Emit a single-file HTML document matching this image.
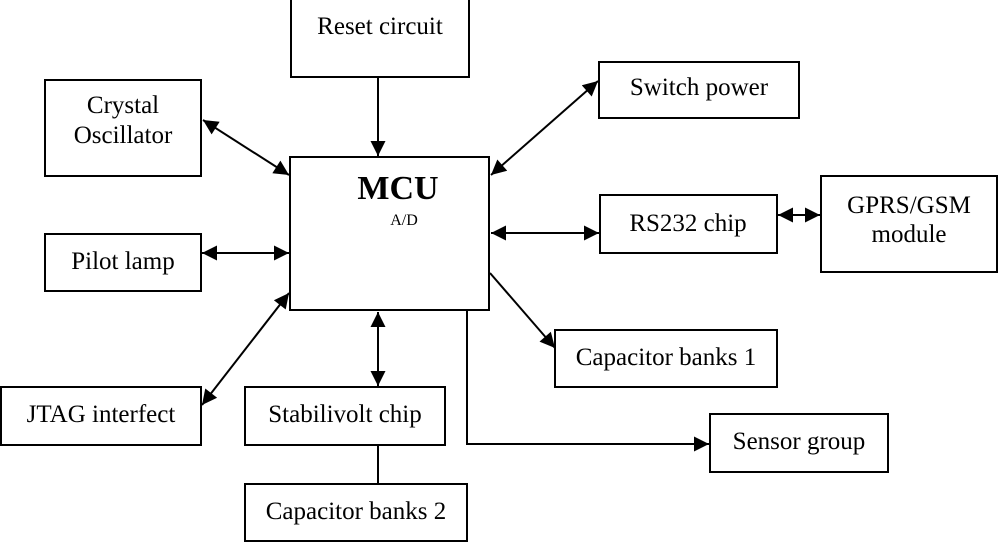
<!DOCTYPE html>
<html><head><style>
html,body{margin:0;padding:0;background:#fff;}
svg{display:block;}
text{font-family:"Liberation Serif",serif;font-size:25px;fill:#000;}
</style></head><body>
<svg width="1000" height="542" viewBox="0 0 1000 542">
<defs>
<marker id="a" viewBox="0 0 10 10" refX="10" refY="5" markerWidth="16" markerHeight="15" markerUnits="userSpaceOnUse" orient="auto-start-reverse">
<path d="M0,0 L10,5 L0,10 z" fill="#000"/></marker>
</defs>
<g fill="none" stroke="#000" stroke-width="2">
<rect x="291" y="-2" width="178" height="79"/>
<rect x="45" y="80" width="156" height="96"/>
<rect x="599" y="62" width="200" height="56"/>
<rect x="290" y="157" width="199" height="153"/>
<rect x="600" y="195" width="177" height="58"/>
<rect x="821" y="176" width="176" height="96"/>
<rect x="45" y="234" width="156" height="57"/>
<rect x="555" y="330" width="222" height="57"/>
<rect x="1" y="387" width="200" height="58"/>
<rect x="245" y="387" width="200" height="58"/>
<rect x="710" y="414" width="178" height="58"/>
<rect x="245" y="484" width="222" height="57"/>
</g>
<g stroke="#000" stroke-width="2" fill="none">
<line x1="378" y1="77" x2="378" y2="156" marker-end="url(#a)"/>
<line x1="203" y1="120" x2="289" y2="175" marker-start="url(#a)" marker-end="url(#a)"/>
<line x1="598" y1="81" x2="491" y2="175" marker-start="url(#a)" marker-end="url(#a)"/>
<line x1="202" y1="253" x2="289" y2="253" marker-start="url(#a)" marker-end="url(#a)"/>
<line x1="491" y1="233" x2="599" y2="233" marker-start="url(#a)" marker-end="url(#a)"/>
<line x1="778" y1="215" x2="820" y2="215" marker-start="url(#a)" marker-end="url(#a)"/>
<line x1="490" y1="273" x2="555" y2="348" marker-end="url(#a)"/>
<polyline points="467,310 467,444 709,444" marker-end="url(#a)"/>
<line x1="202" y1="405" x2="289" y2="293" marker-start="url(#a)" marker-end="url(#a)"/>
<line x1="378" y1="312" x2="378" y2="386" marker-start="url(#a)" marker-end="url(#a)"/>
<line x1="378" y1="445" x2="378" y2="484"/>
</g>
<text x="380" y="34" text-anchor="middle">Reset circuit</text>
<text x="123" y="113" text-anchor="middle">Crystal</text>
<text x="123" y="143" text-anchor="middle">Oscillator</text>
<text x="699" y="95" text-anchor="middle">Switch power</text>
<text x="398" y="199" text-anchor="middle" style="font-weight:bold;font-size:34px">MCU</text>
<text x="404" y="225" text-anchor="middle" style="font-size:16px">A/D</text>
<text x="688" y="231" text-anchor="middle">RS232 chip</text>
<text x="909" y="213" text-anchor="middle">GPRS/GSM</text>
<text x="909" y="242" text-anchor="middle">module</text>
<text x="123" y="269" text-anchor="middle">Pilot lamp</text>
<text x="666" y="365" text-anchor="middle">Capacitor banks 1</text>
<text x="101" y="422" text-anchor="middle">JTAG interfect</text>
<text x="345" y="422" text-anchor="middle">Stabilivolt chip</text>
<text x="799" y="449" text-anchor="middle">Sensor group</text>
<text x="356" y="519" text-anchor="middle">Capacitor banks 2</text>
</svg>
</body></html>
